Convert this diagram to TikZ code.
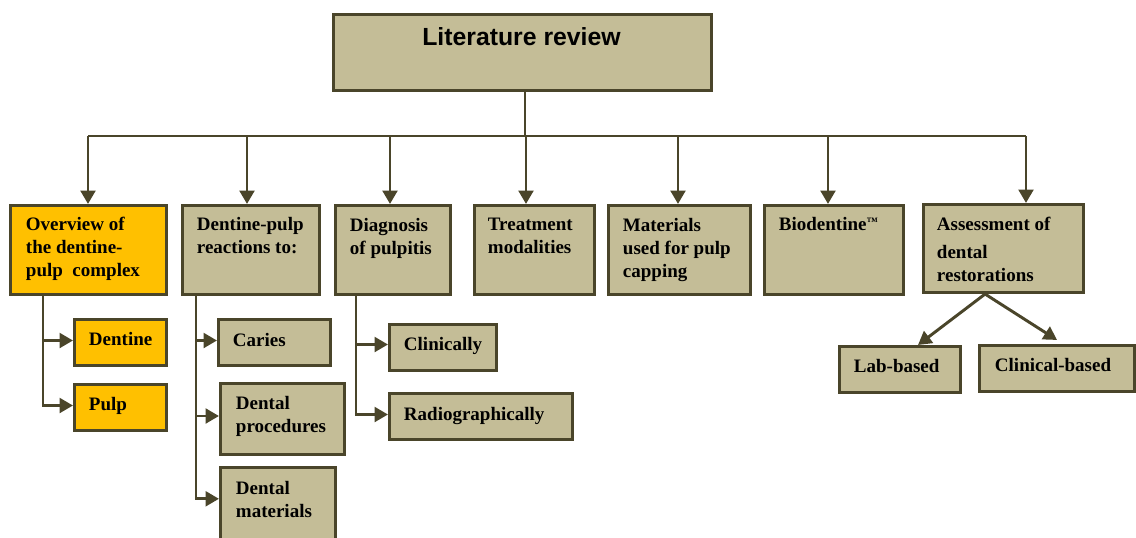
\documentclass[tikz,border=0pt]{standalone}
\usepackage{fontspec}
\setmainfont{Liberation Serif}
\newfontfamily\titlefont{Liberation Sans}
\usetikzlibrary{arrows.meta,calc}
\definecolor{tanfill}{HTML}{C4BD97}
\definecolor{edgecol}{HTML}{4A452A}
\definecolor{goldfill}{HTML}{FFC000}
\tikzset{
  box/.style={draw=edgecol, line width=2.3pt, fill=tanfill, inner sep=0pt, rectangle},
  gbox/.style={box, fill=goldfill},
  txt/.style={anchor=north west, inner sep=0pt, outer sep=0pt, align=left,
    font=\fontsize{14.25pt}{17.25pt}\selectfont\bfseries, text=black},
  conn/.style={draw=edgecol, line width=2.2pt},
  arr/.style={conn, -{Triangle[length=10pt,width=11pt]}},
}
% name, style, x1, y1, x2, y2 (outer edges, px)
\newcommand\mkbox[6]{%
  \node[#2, minimum width={(#5-#3-3)*0.75pt}, minimum height={(#6-#4-3)*0.75pt}]
    (#1) at ({(#3+#5)/2},{(#4+#6)/2}) {};}
\begin{document}
\begin{tikzpicture}[x=0.75pt,y=-0.75pt]
\useasboundingbox (0,0) rectangle (1136,537);
% boxes
\mkbox{top}{box}{332}{13}{713}{92}
\mkbox{ov}{gbox}{9}{204}{168}{296}
\mkbox{dp}{box}{181}{204}{321}{296}
\mkbox{dg}{box}{334}{204}{452}{296}
\mkbox{tr}{box}{473}{204}{596}{296}
\mkbox{ma}{box}{607}{204}{752}{296}
\mkbox{bi}{box}{763}{204}{905}{296}
\mkbox{as}{box}{922}{203}{1085}{294}
\mkbox{de}{gbox}{73}{318}{168}{367}
\mkbox{pu}{gbox}{73}{383}{168}{432}
\mkbox{ca}{box}{217}{318}{332}{367}
\mkbox{pr}{box}{219}{382}{346}{456}
\mkbox{dm}{box}{219}{466}{337}{548}
\mkbox{cl}{box}{388}{323}{498}{372}
\mkbox{ra}{box}{388}{392}{574}{441}
\mkbox{lb}{box}{838}{345}{962}{394}
\mkbox{cb}{box}{978}{344}{1136}{393}
% texts
\node[anchor=north, inner sep=0pt, font=\titlefont\fontsize{18.6pt}{21pt}\selectfont\bfseries] (top-t) at (521.5,27) {Literature review};
\node[txt] (ov-t) at ($(ov.north west)+(17,13)$) {Overview of\\the dentine-\\pulp\ \ complex};
\node[txt] (dp-t) at ($(dp.north west)+(16,13)$) {Dentine-pulp\\reactions to:};
\node[txt] (dg-t) at ($(dg.north west)+(16,14)$) {Diagnosis\\of pulpitis};
\node[txt] (tr-t) at ($(tr.north west)+(15,14)$) {Treatment\\modalities};
\node[txt] (ma-t) at ($(ma.north west)+(16,14)$) {Materials\\used for pulp\\capping};
\node[txt] (bi-t) at ($(bi.north west)+(16,13)$) {Biodentine\raisebox{3.2pt}{\fontsize{8.5pt}{9pt}\selectfont ™}};
\node[txt] (as-t) at ($(as.north west)+(15,14)$) {Assessment of\\[3.5pt]dental\\restorations};
\node[txt] (de-t) at ($(de.north west)+(16,14)$) {Dentine};
\node[txt] (pu-t) at ($(pu.north west)+(16,14)$) {Pulp};
\node[txt] (ca-t) at ($(ca.north west)+(16,15)$) {Caries};
\node[txt] (pr-t) at ($(pr.north west)+(17,14)$) {Dental\\procedures};
\node[txt] (dm-t) at ($(dm.north west)+(17,15)$) {Dental\\materials};
\node[txt] (cl-t) at ($(cl.north west)+(16,14)$) {Clinically};
\node[txt] (ra-t) at ($(ra.north west)+(16,15)$) {Radiographically};
\node[txt] (lb-t) at ($(lb.north west)+(16,14)$) {Lab-based};
\node[txt] (cb-t) at ($(cb.north west)+(17,14)$) {Clinical-based};
% top bus
\coordinate (bus) at (525,136);
\coordinate (b1) at (88,136);
\coordinate (b2) at (247,136);
\coordinate (b3) at (390,136);
\coordinate (b4) at (526,136);
\coordinate (b5) at (678,136);
\coordinate (b6) at (828,136);
\coordinate (b7) at (1026,136);
\draw[conn] (bus |- top.south) -- (bus);
\draw[conn] (b1) -- (b7);
\draw[arr] (b1) -- (b1 |- ov.north);
\draw[arr] (b2) -- (b2 |- dp.north);
\draw[arr] (b3) -- (b3 |- dg.north);
\draw[arr] (b4) -- (b4 |- tr.north);
\draw[arr] (b5) -- (b5 |- ma.north);
\draw[arr] (b6) -- (b6 |- bi.north);
\draw[arr] (b7) -- (b7 |- as.north);
% overview children
\coordinate (s1) at (43,0);
\draw[arr] (s1 |- ov.south) |- ($(pu.west)+(0,-2)$);
\draw[arr] ($(s1 |- de.west)+(0,-2)$) -- ($(de.west)+(0,-2)$);
% dentine-pulp children
\coordinate (s2) at (196,0);
\coordinate (dmin) at ($(dm.north west)!0.4!(dm.south west)$);
\draw[arr] (s2 |- dp.south) |- (dmin);
\draw[arr] ($(s2 |- ca.west)+(0,-2)$) -- ($(ca.west)+(0,-2)$);
\draw[arr] ($(s2 |- pr.west)+(0,-3)$) -- ($(pr.west)+(0,-3)$);
% diagnosis children
\coordinate (s3) at (356,0);
\draw[arr] (s3 |- dg.south) |- ($(ra.west)+(0,-2)$);
\draw[arr] ($(s3 |- cl.west)+(0,-3)$) -- ($(cl.west)+(0,-3)$);
% assessment children
\coordinate (asb) at ($(as.south west)!0.387!(as.south east)$);
\draw[arr] (asb) -- ($(lb.north west)!0.645!(lb.north east)$);
\draw[arr] (asb) -- ($(cb.north)+(0,-4)$);
\end{tikzpicture}
\end{document}
